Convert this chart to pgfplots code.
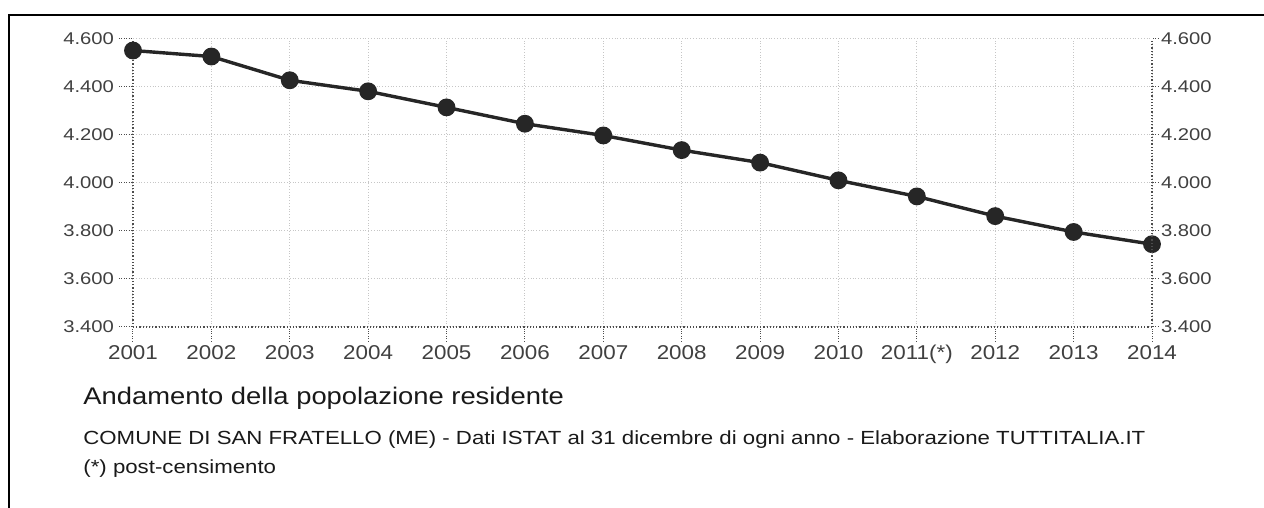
\documentclass[border=0pt]{standalone}
\usepackage{pgfplots}
\pgfplotsset{compat=1.18}
\usepackage{fontspec}
\setmainfont{Liberation Sans}
\usepackage{graphicx}
\newcommand\sx[1]{\scalebox{1.12}[1]{#1}}
\newcommand\sy[1]{\scalebox{1.19}[1]{#1}}
\definecolor{tick}{gray}{0.25}
\begin{document}
\begin{tikzpicture}
\path[use as bounding box] (-66.5pt,-90.5pt) rectangle (565.5pt,163.5pt);
\draw[line width=1.1pt,black] (-62pt,-90.5pt) -- (-62pt,156pt) -- (565.5pt,156pt);
\begin{axis}[
  at={(0pt,0pt)}, anchor=south west,
  scale only axis, width=509.5pt, height=144pt,
  xmin=0, xmax=13, ymin=3400, ymax=4600,
  xtick={0,...,13},
  xticklabels={\sx{2001},\sx{2002},\sx{2003},\sx{2004},\sx{2005},\sx{2006},\sx{2007},\sx{2008},\sx{2009},\sx{2010},\sx{2011(*)},\sx{2012},\sx{2013},\sx{2014}},
  ytick={3400,3600,3800,4000,4200,4400,4600},
  yticklabels={\sy{3.400},\sy{3.600},\sy{3.800},\sy{4.000},\sy{4.200},\sy{4.400},\sy{4.600}},
  axis x line*=bottom, axis y line*=left,
  axis line style={densely dotted, gray!60!black, line width=0.6pt, -},
  tick align=outside, major tick length=7pt,
  tick style={densely dotted, gray!60!black, line width=0.5pt},
  grid=major, major grid style={densely dotted, gray!45, line width=0.5pt},
  xticklabel style={font=\fontsize{10}{10}\selectfont, text=tick, yshift=1.5pt},
  yticklabel style={font=\fontsize{8.5}{9}\selectfont, text=tick, xshift=1pt},
  clip=false,
]
\addplot[black!85, line width=1.7pt, mark=*, mark size=3.6pt, mark options={fill=black!85, draw=black!85}]
coordinates {
(0,4552) (1,4527) (2,4428) (3,4382) (4,4315) (5,4247) (6,4198)
(7,4137) (8,4085) (9,4011) (10,3944) (11,3862) (12,3796) (13,3745)
};
\end{axis}
\begin{axis}[
  at={(0pt,0pt)}, anchor=south west,
  scale only axis, width=509.5pt, height=144pt,
  xmin=0, xmax=13, ymin=3400, ymax=4600,
  axis x line=none, axis y line*=right,
  ytick={3400,3600,3800,4000,4200,4400,4600},
  yticklabels={\sy{3.400},\sy{3.600},\sy{3.800},\sy{4.000},\sy{4.200},\sy{4.400},\sy{4.600}},
  axis line style={densely dotted, gray!60!black, line width=0.6pt, -},
  tick align=outside, major tick length=3pt,
  tick style={densely dotted, gray!60!black, line width=0.5pt},
  yticklabel style={font=\fontsize{8.5}{9}\selectfont, text=tick, xshift=-2pt},
]
\addplot[draw=none] coordinates {(0,3400)};
\end{axis}
\node[anchor=base west, inner sep=0pt, font=\fontsize{12}{12}\selectfont, text=black!90] at (-25pt,-39pt) {\scalebox{1.14}[1]{Andamento della popolazione residente}};
\node[anchor=base west, inner sep=0pt, font=\fontsize{9.5}{10}\selectfont, text=black!90] at (-25pt,-59pt) {\scalebox{1.17}[1]{COMUNE DI SAN FRATELLO (ME) - Dati ISTAT al 31 dicembre di ogni anno - Elaborazione TUTTITALIA.IT}};
\node[anchor=base west, inner sep=0pt, font=\fontsize{9.5}{10}\selectfont, text=black!90] at (-25pt,-73.5pt) {\scalebox{1.17}[1]{(*) post-censimento}};
\end{tikzpicture}
\end{document}
